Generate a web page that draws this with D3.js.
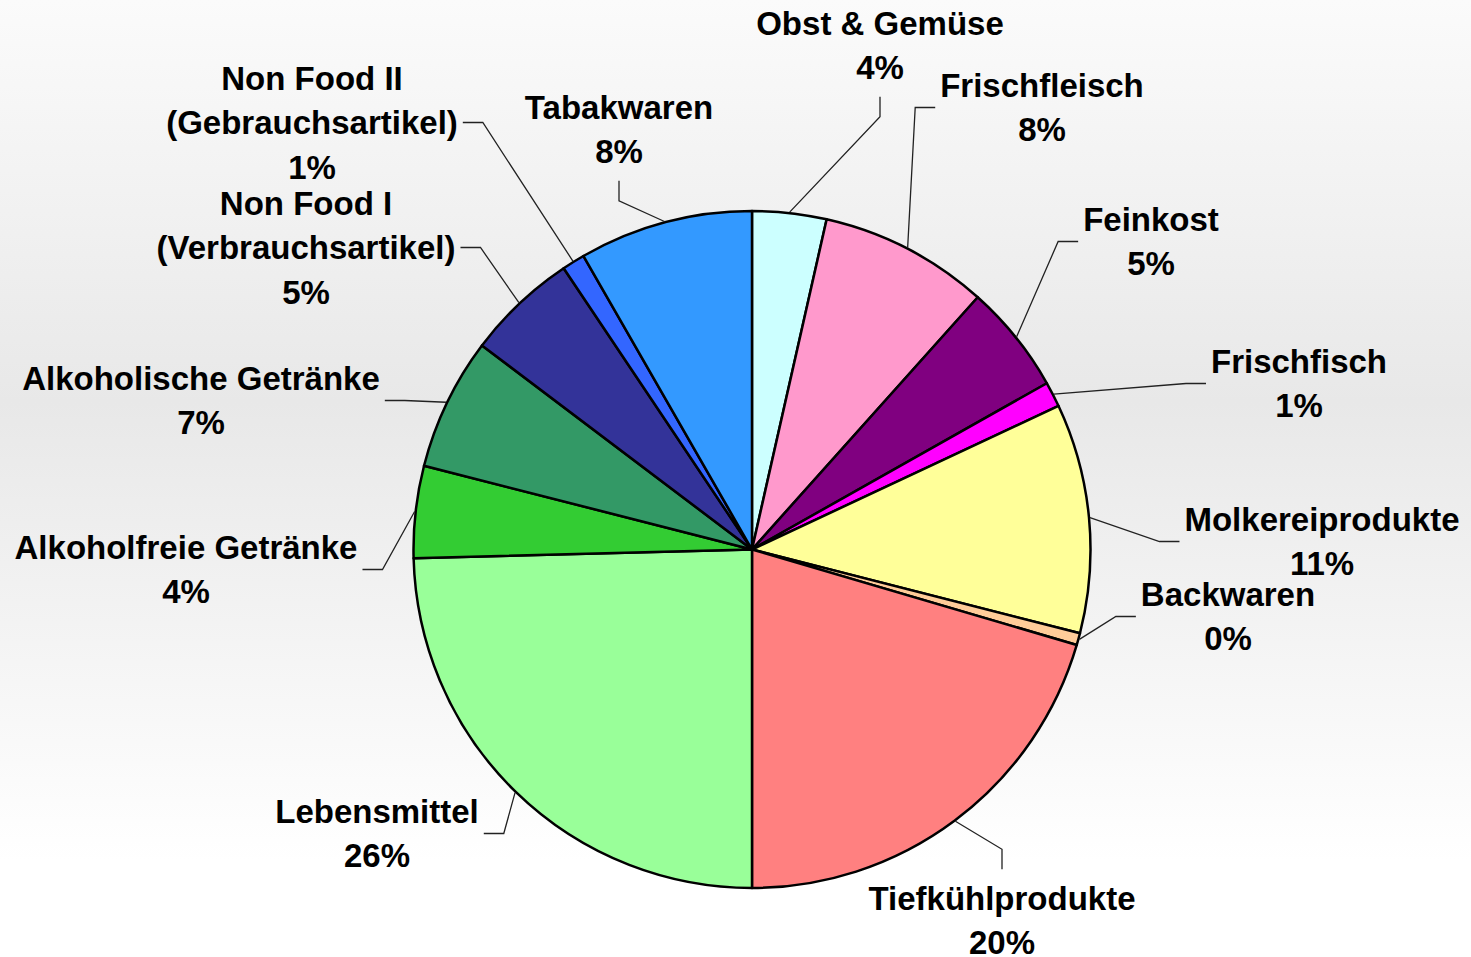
<!DOCTYPE html>
<html>
<head>
<meta charset="utf-8">
<script src="https://cdn.jsdelivr.net/npm/d3@7"></script>
<style>
  html, body { margin: 0; padding: 0; }
  body { width: 1471px; height: 957px; overflow: hidden; }
  text { font-family: "Liberation Sans", Arial, sans-serif; font-weight: bold; font-size: 33px; fill: #000; }
</style>
</head>
<body>
<svg id="chart" width="1471" height="957"></svg>
<script>
var categories = [
  'Obst & Gemüse', 'Frischfleisch', 'Feinkost', 'Frischfisch', 'Molkereiprodukte',
  'Backwaren', 'Tiefkühlprodukte', 'Lebensmittel', 'Alkoholfreie Getränke',
  'Alkoholische Getränke', 'Non Food I\n(Verbrauchsartikel)', 'Non Food II\n(Gebrauchsartikel)', 'Tabakwaren'
]
var shares = [3.54, 8.08, 5.21, 1.2, 10.95, 0.57, 20.45, 24.59, 4.39, 6.32, 5.31, 1.09, 8.3]
var percentLabels = ['4%', '8%', '5%', '1%', '11%', '0%', '20%', '26%', '4%', '7%', '5%', '1%', '8%']
var colors = [
  '#ccffff', '#ff99cc', '#800080', '#ff00ff', '#ffff99', '#ffcc99', '#ff8080',
  '#99ff99', '#33cc33', '#339966', '#333399', '#3366ff', '#3399ff'
]

// label block centre, relative to the pie centre, and the side the leader attaches to
var labelSpots = [
  [128, -504, 'b'], [290, -442, 'l'], [399, -308, 'l'], [547, -166, 'l'], [570, -8, 'l'],
  [476, 67, 'l'], [250, 371, 't'], [-375, 284, 'r'], [-566, 20, 'r'], [-551, -149, 'r'],
  [-446, -302, 'r'], [-440, -427, 'r'], [-133, -420, 'b']
]

var width = 1471
var height = 957
var cx = 752
var cy = 549.5
var radius = 338.5
var lineHeight = 44.5

var svg = d3.select('#chart')

var grad = svg.append('defs').append('linearGradient')
  .attr('id', 'bg')
  .attr('x1', 0).attr('y1', 0).attr('x2', 0).attr('y2', 1)
grad.append('stop').attr('offset', '0%').attr('stop-color', '#fbfbfb')
grad.append('stop').attr('offset', '42%').attr('stop-color', '#e8e8e8')
grad.append('stop').attr('offset', '90%').attr('stop-color', '#ffffff')

svg.append('rect')
  .attr('width', width)
  .attr('height', height)
  .attr('fill', 'url(#bg)')

var pie = d3.pie().sort(null).value(function (d) { return d })
var arcs = pie(shares)

var arc = d3.arc().innerRadius(0).outerRadius(radius)

var g = svg.append('g').attr('transform', 'translate(' + cx + ',' + cy + ')')

g.selectAll('path.slice')
  .data(arcs)
  .enter().append('path')
    .attr('class', 'slice')
    .attr('d', arc)
    .attr('fill', function (d, i) { return colors[i] })
    .attr('stroke', '#000')
    .attr('stroke-width', 2.5)
    .attr('stroke-linejoin', 'round')

var labels = g.selectAll('g.label')
  .data(arcs)
  .enter().append('g')
    .attr('class', 'label')

labels.each(function (d, i) {
  var spot = labelSpots[i]
  var lines = categories[i].split('\n').concat([percentLabels[i]])
  var n = lines.length
  var node = d3.select(this)

  var text = node.append('text')
    .attr('text-anchor', 'middle')

  text.selectAll('tspan')
    .data(lines)
    .enter().append('tspan')
      .attr('x', spot[0])
      .attr('y', function (l, k) { return spot[1] + (k - (n - 1) / 2) * lineHeight })
      .attr('dominant-baseline', 'central')
      .text(function (l) { return l })

  var box = text.node().getBBox()
  var half = (n - 1) * lineHeight / 2 + 29
  var stub
  if (spot[2] === 'l') {
    stub = [[box.x - 25, spot[1]], [box.x - 5, spot[1]]]
  } else if (spot[2] === 'r') {
    stub = [[box.x + box.width + 25, spot[1]], [box.x + box.width + 5, spot[1]]]
  } else if (spot[2] === 'b') {
    stub = [[spot[0], spot[1] + half + 20], [spot[0], spot[1] + half]]
  } else {
    stub = [[spot[0], spot[1] - half - 20], [spot[0], spot[1] - half]]
  }

  var mid = (d.startAngle + d.endAngle) / 2
  var start = [Math.sin(mid) * (radius + 1), -Math.cos(mid) * (radius + 1)]

  node.insert('path', 'text')
    .attr('d', d3.line()([start, stub[0], stub[1]]))
    .attr('fill', 'none')
    .attr('stroke', '#222')
    .attr('stroke-width', 1.3)
})
</script>
</body>
</html>
